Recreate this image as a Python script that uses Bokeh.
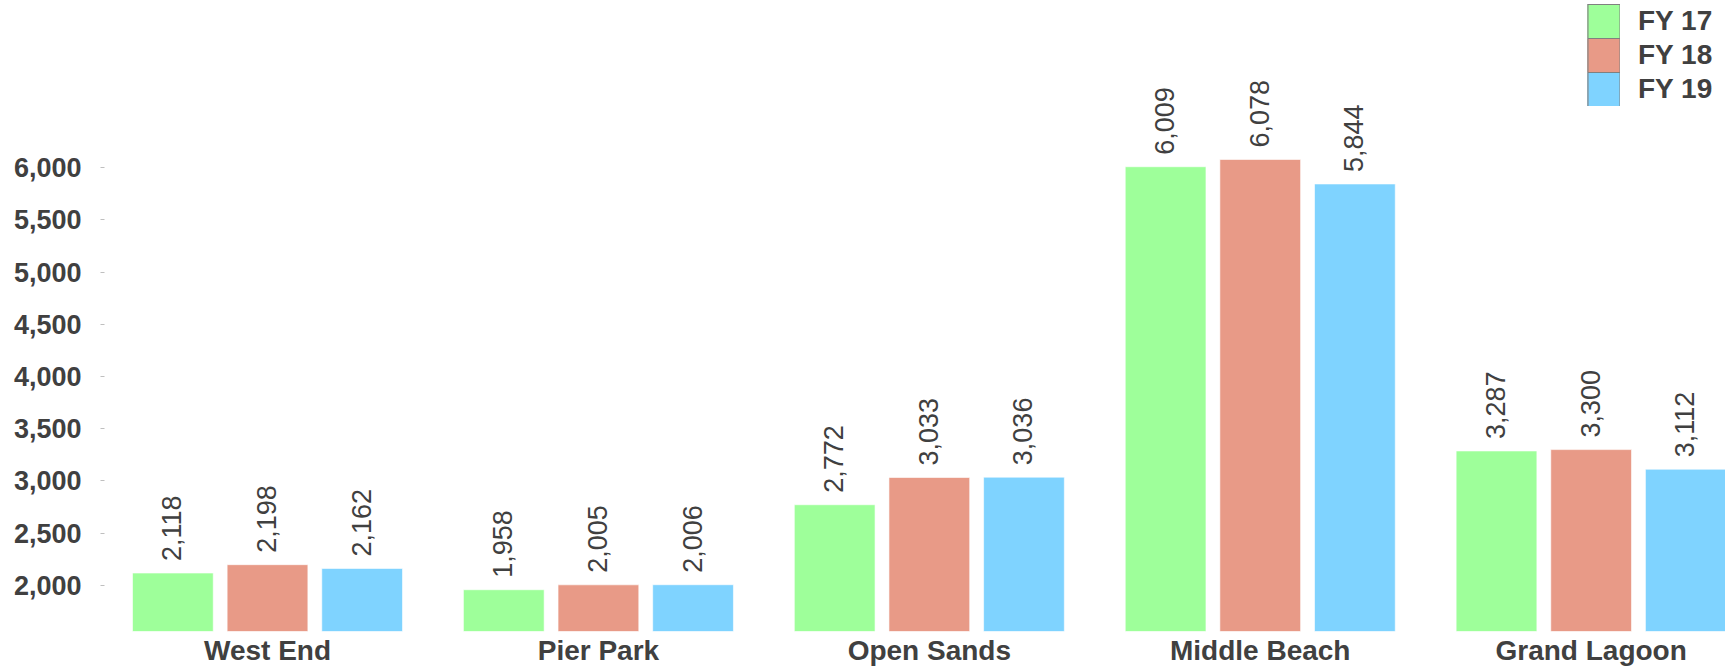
from bokeh.plotting import figure
from bokeh.models import (ColumnDataSource, Range1d, FixedTicker, NumeralTickFormatter,
                          Legend, LegendItem, LabelSet)
from bokeh.core.properties import value
from bokeh.transform import dodge
from bokeh.embed import file_html
from bokeh.resources import INLINE

categories = ["West End", "Pier Park", "Open Sands", "Middle Beach", "Grand Lagoon"]
series_names = ["FY 17", "FY 18", "FY 19"]
fy17 = [2118, 1958, 2772, 6009, 3287]
fy18 = [2198, 2005, 3033, 6078, 3300]
fy19 = [2162, 2006, 3036, 5844, 3112]
y_ticks = [2000, 2500, 3000, 3500, 4000, 4500, 5000, 5500, 6000]

colors = ["#9eff9a", "#e89a87", "#7fd3ff"]
offsets = [-0.286, 0.0, 0.286]
bar_w = 0.244
FONT = "Liberation Sans"
TXT = "#404040"

idx = list(range(len(categories)))
src = ColumnDataSource(dict(
    x=idx,
    fy17=fy17, fy18=fy18, fy19=fy19,
    l17=[f"{v:,}" for v in fy17],
    l18=[f"{v:,}" for v in fy18],
    l19=[f"{v:,}" for v in fy19],
))

p = figure(width=1725, height=668, output_backend="svg", toolbar_location=None,
           x_range=Range1d(-0.4926, 4.406), y_range=Range1d(1558, 7601),
           min_border_left=104, min_border_right=0, min_border_top=0, min_border_bottom=35)
p.outline_line_color = None
p.xgrid.visible = False
p.ygrid.visible = False
p.background_fill_color = "white"
p.border_fill_color = "white"

fields = ["fy17", "fy18", "fy19"]
lfields = ["l17", "l18", "l19"]
for f, lf, c, off in zip(fields, lfields, colors, offsets):
    p.vbar(x=dodge("x", off), top=f, bottom=0, width=bar_w, source=src,
           fill_color=c, line_color="white", line_alpha=0.6, line_width=1)
    labels = LabelSet(x=dodge("x", off), y=f, text=lf, source=src, angle=1.5707963,
                      text_align="left", text_baseline="middle", y_offset=12, x_offset=-1,
                      text_font=value(FONT), text_font_size=value("27px"),
                      text_color=TXT)
    p.add_layout(labels)

# legend proxies (drawn far below the visible y range, only their legend swatches show)
items = []
for name, c in zip(series_names, colors):
    r_border = p.line(x="x", y=0, source=src, line_color="#808080", line_width=35)
    r_fill = p.line(x="x", y=0, source=src, line_color=c, line_width=33)
    r_sides = p.line(x="x", y=0, source=src, line_color="#808080", line_width=35,
                     line_dash="1 31")
    items.append(LegendItem(label=name, renderers=[r_border, r_fill, r_sides]))
legend = Legend(items=items, location=(1483, 525), padding=0, margin=0, spacing=0,
                glyph_width=33, glyph_height=34, label_height=34, label_standoff=18,
                label_text_font=FONT, label_text_font_size="28px",
                label_text_font_style="bold", label_text_color=TXT,
                border_line_alpha=0, background_fill_alpha=0)
p.add_layout(legend)

# y axis
p.yaxis.ticker = FixedTicker(ticks=y_ticks)
p.yaxis.formatter = NumeralTickFormatter(format="0,0")
p.yaxis.axis_line_color = None
p.yaxis.major_tick_line_color = "#bfbfbf"
p.yaxis.major_tick_in = 0
p.yaxis.major_tick_out = 4
p.yaxis.minor_tick_line_color = None
p.yaxis.major_label_standoff = 19
p.yaxis.major_label_text_font = FONT
p.yaxis.major_label_text_font_size = "27px"
p.yaxis.major_label_text_font_style = "bold"
p.yaxis.major_label_text_color = TXT

# x axis
p.xaxis.ticker = FixedTicker(ticks=idx)
p.xaxis.major_label_overrides = {i: n for i, n in zip(idx, categories)}
p.xaxis.axis_line_color = None
p.xaxis.major_tick_line_color = None
p.xaxis.minor_tick_line_color = None
p.xaxis.major_tick_in = 0
p.xaxis.major_tick_out = 0
p.xaxis.major_label_standoff = 3
p.xaxis.major_label_text_font = FONT
p.xaxis.major_label_text_font_size = "28px"
p.xaxis.major_label_text_font_style = "bold"
p.xaxis.major_label_text_color = TXT

open("out.html", "w").write(file_html(p, INLINE))
